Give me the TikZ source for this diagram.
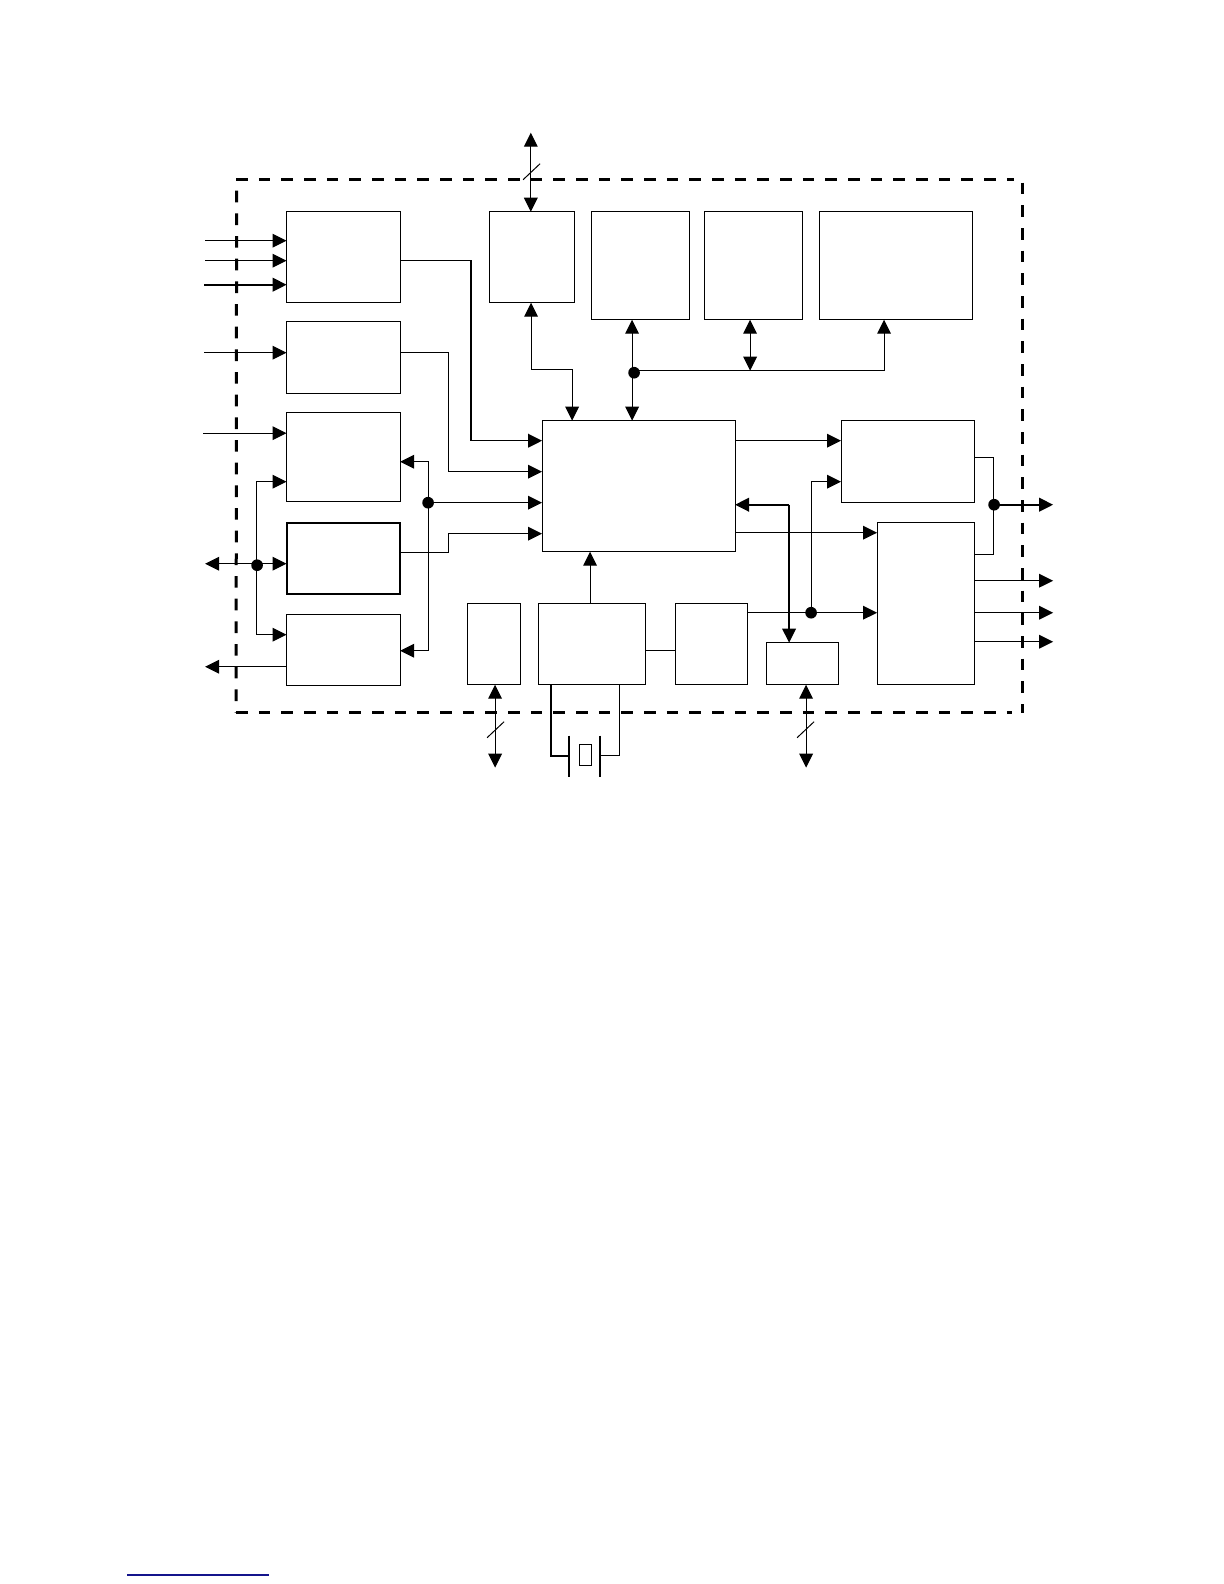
\documentclass[tikz,border=0pt]{standalone}
\usetikzlibrary{arrows.meta,calc}
\definecolor{linkblue}{RGB}{20,20,140}
\tikzset{
  blk/.style={draw=black,line width=0.7pt,anchor=north west,inner sep=0pt,outer sep=0pt},
  thickblk/.style={blk,line width=1.1pt},
  wire/.style={draw=black,line width=0.7pt},
  boldwire/.style={draw=black,line width=1.2pt},
  tip/.tip={Triangle[length=8.4pt,width=8.2pt]},
  arr/.style={wire,-tip},
  barr/.style={wire,tip-tip},
  frameline/.style={draw=black,line width=1.8pt,dash pattern=on 7pt off 6.6pt},
  jdot/.style={circle,fill=black,draw=none,inner sep=0pt,minimum size=7pt},
  slash/.style={wire,line width=0.6pt},
  x=0.6pt,y=-0.6pt
}
\newcommand{\blockat}[6][blk]{\node[#1,minimum width={(#5-#3)*0.6pt},minimum height={(#6-#4)*0.6pt}] (#2) at (#3,#4) {};}
\begin{document}
\begin{tikzpicture}
\useasboundingbox (0,0) rectangle (1224,1584);
\begin{scope}[shift={(0.1,0.7)}]
% outer dashed frame
\coordinate (fTL) at (236,179);
\coordinate (fTR) at (1014,179);
\coordinate (fRT) at (1022,182);
\coordinate (fRB) at (1022,712);
\coordinate (fBL) at (236,712);
\coordinate (fBR) at (1012,712);
\coordinate (fLT) at (236.5,190);
\draw[frameline] (fTL) -- (fTR);
\draw[frameline] (fRT) -- (fRB);
\draw[frameline] (fBL) -- (fBR);
\draw[frameline] (fLT) -- (fBL);
% blocks
\blockat{A}{286.5}{211}{400}{302}
\blockat{B}{286.5}{321}{400}{393}
\blockat{C}{286.5}{412}{400}{501}
\blockat[thickblk]{D}{286.5}{522}{400}{593}
\blockat{E}{286.5}{614}{400}{685}
\blockat{F}{489}{211}{574}{302}
\blockat{G}{591}{211}{689}{319}
\blockat{H}{704}{211}{802}{319}
\blockat{I}{819}{211}{972}{319}
\blockat{CPU}{542}{420}{735}{551}
\blockat{J}{841}{420}{974}{502}
\blockat{K}{877}{522}{974}{684}
\blockat{L}{766}{642}{838}{684}
\blockat{M}{675}{603}{747}{684}
\blockat{N}{538}{603}{645}{684}
\blockat{O}{467}{603}{520}{684}
% free ends
\coordinate (a1) at (205,240);
\coordinate (a2) at (205,260);
\coordinate (a3) at (204,284);
\coordinate (b1) at (204,352);
\coordinate (c1) at (203,432.5);
\coordinate (busL) at (205,563);
\coordinate (eOut) at (205,666);
\draw[arr] (a1) -- (a1 -| A.west);
\draw[arr] (a2) -- (a2 -| A.west);
\draw[arr,line width=1.2pt] (a3) -- (a3 -| A.west);
\draw[arr] (b1) -- (b1 -| B.west);
\draw[arr] (c1) -- (c1 -| C.west);
% left bus
\node[jdot] (dL) at (257,564.5) {};
\coordinate (vL) at (256,563);
\coordinate (vLt) at (256,481);
\coordinate (vLb) at (256,634);
\draw[barr] (busL) -- (busL -| D.west);
\draw[arr] (vL) -- (vLt) -- (vLt -| C.west);
\draw[arr] (vL) -- (vLb) -- (vLb -| E.west);
\draw[arr] (eOut -| E.west) -- (eOut);
% A, B, D to CPU
\coordinate (aTurn) at (471,260);
\coordinate (aIn) at (471,440);
\draw[wire,line width=0.9pt,-tip] (aTurn -| A.east) -- (aTurn) -- (aIn) -- (aIn -| CPU.west);
\coordinate (bTurn) at (448,352);
\coordinate (bIn) at (448,471);
\draw[arr] (bTurn -| B.east) -- (bTurn) -- (bIn) -- (bIn -| CPU.west);
\coordinate (dTurn) at (448,552);
\coordinate (dIn) at (448,533);
\draw[arr] (dTurn -| D.east) -- (dTurn) -- (dIn) -- (dIn -| CPU.west);
% bus between C, E and CPU
\node[jdot] (dC) at (428,502) {};
\coordinate (vCt) at (428,461);
\coordinate (vCb) at (428,650);
\draw[arr] (dC.center) -- (dC.center -| CPU.west);
\draw[arr] (dC.center) -- (vCt) -- (vCt -| C.east);
\draw[arr] (dC.center) -- (vCb) -- (vCb -| E.east);
% top bus
\coordinate (topEnd) at (530.7,132);
\coordinate (topS1) at (523,179);
\coordinate (topS2) at (540,163);
\draw[barr] (topEnd) -- (topEnd |- F.north);
\draw[slash] (topS1) -- (topS2);
% F to CPU
\coordinate (fTurn1) at (531,369);
\coordinate (fTurn2) at (572,369);
\draw[barr] (fTurn1 |- F.south) -- (fTurn1) -- (fTurn2) -- (fTurn2 |- CPU.north);
% G, H, I bus
\node[jdot] (dG) at (634,372) {};
\coordinate (gx) at (632,370);
\coordinate (hx) at (750,370);
\coordinate (ix) at (884,370);
\draw[barr] (gx |- G.south) -- (gx |- CPU.north);
\draw[barr] (hx |- H.south) -- (hx);
\draw[arr] (gx) -- (ix) -- (ix |- I.south);
% N to CPU, N to M
\coordinate (nUp) at (590,603);
\draw[arr] (nUp) -- (nUp |- CPU.south);
\coordinate (nm) at (660,650);
\draw[wire] (nm -| N.east) -- (nm -| M.west);
% crystal
\coordinate (xl) at (551,755);
\coordinate (xr) at (619,755);
\coordinate (pl1) at (569,735);
\coordinate (pl2) at (569,776);
\coordinate (pr1) at (600,735);
\coordinate (pr2) at (600,776);
\blockat{X}{579}{744}{591}{765}
\draw[boldwire] (xl |- N.south) -- (xl) -- (xl -| pl1);
\draw[wire] (xr |- N.south) -- (xr) -- (xr -| pr1);
\draw[wire,line width=1.1pt] (pl1) -- (pl2);
\draw[wire,line width=0.9pt] (pr1) -- (pr2);
% O bus
\coordinate (oEnd) at (495,767);
\coordinate (oS1) at (487,737);
\coordinate (oS2) at (504,721);
\draw[barr] (oEnd |- O.south) -- (oEnd);
\draw[slash] (oS1) -- (oS2);
% CPU to J, K
\coordinate (cj) at (780,440);
\coordinate (ck) at (800,532);
\draw[arr] (cj -| CPU.east) -- (cj -| J.west);
\draw[arr] (ck -| CPU.east) -- (ck -| K.west);
% M to K, J
\node[jdot] (dM) at (811,612) {};
\coordinate (mj) at (811,481);
\draw[arr] (dM.center -| M.east) -- (dM.center -| K.west);
\draw[arr] (dM.center) -- (mj) -- (mj -| J.west);
% L to CPU
\coordinate (lTurn) at (789,504);
\coordinate (lTip) at (789,642);
\draw[boldwire,-tip] (lTurn) -- (lTurn -| CPU.east);
\draw[wire,line width=0.85pt,-tip] (lTurn) -- (lTip);
% L bus
\coordinate (lEnd) at (806,767);
\coordinate (lS1) at (797,737);
\coordinate (lS2) at (814,721);
\draw[barr] (lEnd |- L.south) -- (lEnd);
\draw[slash] (lS1) -- (lS2);
% J, K to output
\node[jdot] (dO) at (994,504) {};
\coordinate (jr) at (993,457);
\coordinate (kr) at (993,554);
\coordinate (outT) at (1053,504);
\draw[wire] (jr -| J.east) -- (jr) -- (kr) -- (kr -| K.east);
\draw[boldwire,-tip] (dO.center) -- (outT);
\coordinate (k1) at (1053,580);
\coordinate (k2) at (1053,612);
\coordinate (k3) at (1053,641);
\draw[arr] (k1 -| K.east) -- (k1);
\draw[arr] (k2 -| K.east) -- (k2);
\draw[arr] (k3 -| K.east) -- (k3);
\end{scope}
% blue rule at foot
\coordinate (r1) at (127,1575);
\coordinate (r2) at (269,1575);
\draw[linkblue,line width=0.8pt] (r1) -- (r2);
\end{tikzpicture}
\end{document}
